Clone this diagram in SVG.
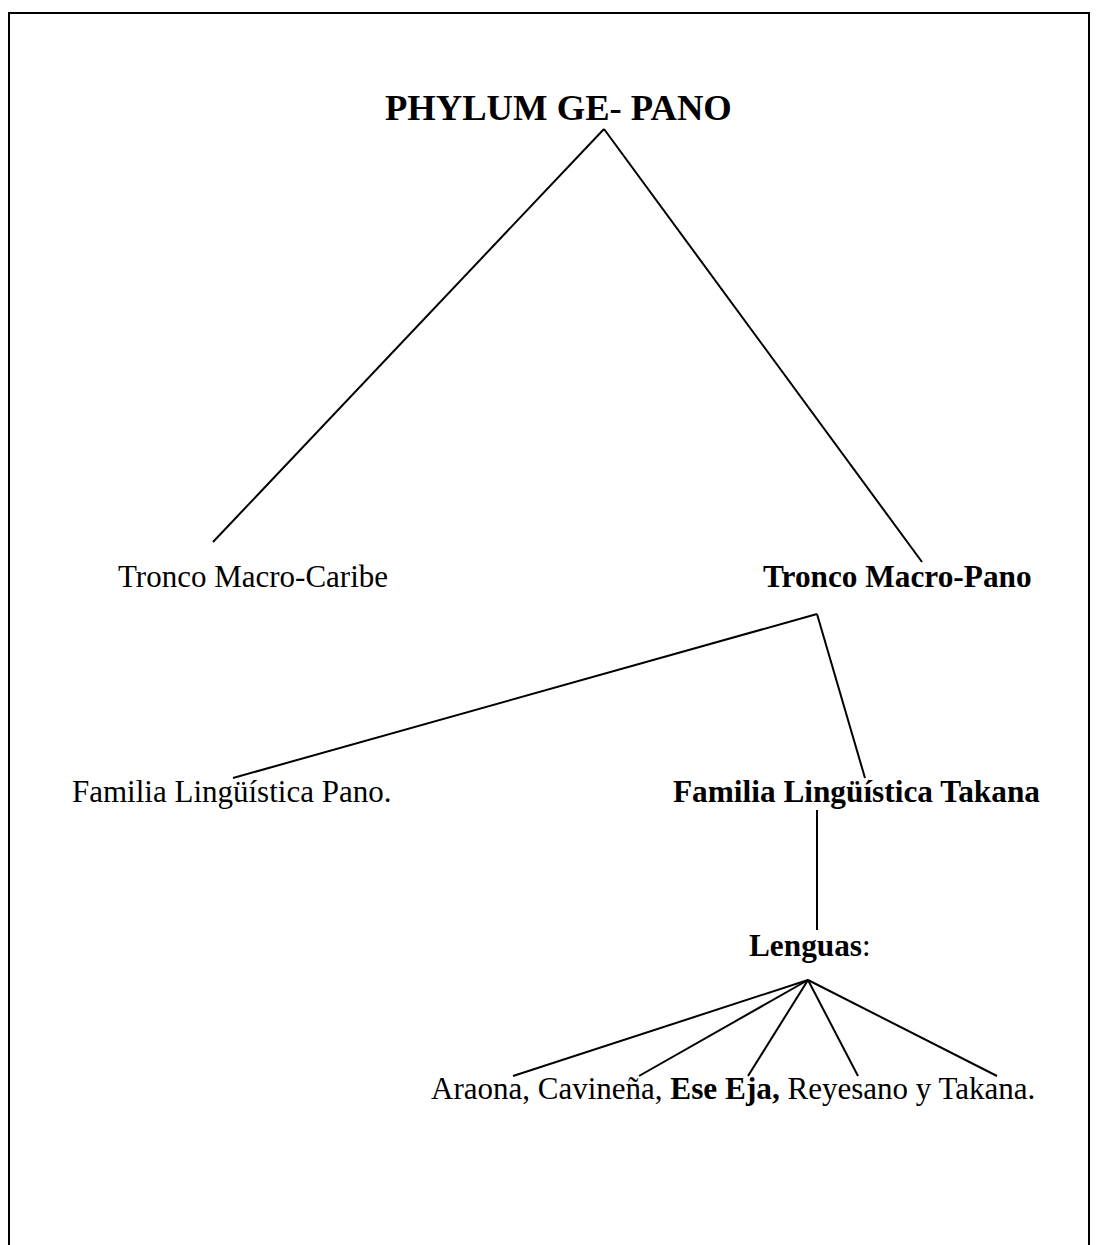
<svg xmlns="http://www.w3.org/2000/svg" width="1097" height="1245" viewBox="0 0 1097 1245">
<style>
text{font-family:"Liberation Serif","Times New Roman",serif;font-size:31px;fill:#000}
.b{font-weight:bold;font-size:31.3px}
.t{font-size:36.6px;font-weight:bold}
.c line,.frame{stroke:#000;stroke-width:2;fill:none}
</style>
<rect width="1097" height="1245" fill="#fff"/>
<path class="frame" d="M9,1246 V13 H1089 V1246"/>
<g class="c" id="connectors">
<line x1="604" y1="129" x2="213" y2="542"/>
<line x1="604" y1="129" x2="922" y2="562"/>
<line x1="817" y1="614" x2="233" y2="778"/>
<line x1="817" y1="614" x2="865" y2="778"/>
<line x1="817" y1="810" x2="817" y2="930"/>
<line x1="808" y1="980" x2="513" y2="1076"/>
<line x1="808" y1="980" x2="639" y2="1076"/>
<line x1="808" y1="980" x2="748" y2="1076"/>
<line x1="808" y1="980" x2="858" y2="1076"/>
<line x1="808" y1="980" x2="997" y2="1076"/>
</g>
<g id="root"><text class="t" x="385" y="120">PHYLUM GE- PANO</text></g>
<g id="caribe"><text x="118" y="587">Tronco Macro-Caribe</text></g>
<g id="macropano"><text class="b" x="763" y="587">Tronco Macro-Pano</text></g>
<g id="pano"><text x="72" y="802">Familia Lingüística Pano.</text></g>
<g id="takana"><text class="b" x="673" y="802">Familia Lingüística Takana</text></g>
<g id="lenguas"><text x="749" y="956"><tspan class="b">Lenguas</tspan>:</text></g>
<g id="lista"><text x="431" y="1099">Araona, Cavineña, <tspan class="b">Ese Eja,</tspan> Reyesano y Takana.</text></g>
</svg>
